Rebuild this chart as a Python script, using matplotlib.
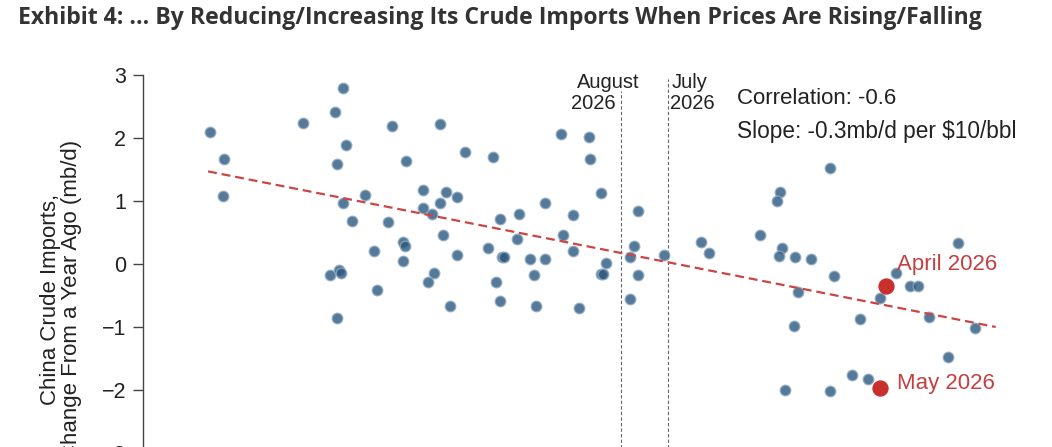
import matplotlib
matplotlib.use("Agg")
import matplotlib.pyplot as plt

# Change in crude price ($/bbl, arbitrary origin) vs change in China crude imports (mb/d)
price_chg = [
    -36.6, -35.1, -35.2, -26.9, -22.7, -23.5, -22.4, -23.3, -22.7, -21.8,
    -24.1, -23.1, -22.9, -23.3, -17.6, -12.6, -16.1, -10.0, -7.0, 0.1,
    3.0, 3.1, -20.4, -14.3, -11.9, -10.8, -12.6, -14.3, -13.4, -18.0,
    -12.2, 4.3, -1.6, -6.3, -4.3, 1.3, 0.3, -4.5, -16.4, -16.2,
    -19.5, -16.4, -10.8, -7.5, -6.1, -5.9, -3.2, -1.6, 1.3, 4.8,
    4.3, 4.5, -13.2, -13.8, -2.7, -6.7, -19.1, -11.5, -6.3, -2.5,
    2.0, 8.1, 7.7, 7.3, 8.1, 7.3, 10.8, 14.7, 15.5, 20.9,
    23.0, 22.7, 28.2, 23.2, 22.9, 24.5, 26.2, 28.6, 24.8, 24.4,
    31.3, 33.4, 35.1, 36.6, 37.4, 38.5, 41.6, 43.3, 40.5, 30.5,
    32.2, 23.5, 28.2,
]
imports_chg = [
    2.10, 1.67, 1.08, 2.24, 2.79, 2.41, 1.89, 1.58, 0.97, 0.68,
    -0.18, -0.10, -0.15, -0.85, 2.19, 2.22, 1.64, 1.78, 1.70, 2.07,
    2.02, 1.67, 1.09, 1.18, 1.15, 1.07, 0.97, 0.89, 0.80, 0.66,
    0.46, 1.12, 0.97, 0.71, 0.80, 0.78, 0.46, 0.40, 0.35, 0.29,
    0.20, 0.05, 0.14, 0.25, 0.11, 0.11, 0.08, 0.08, 0.20, 0.02,
    -0.16, -0.16, -0.15, -0.29, -0.18, -0.29, -0.41, -0.67, -0.58, -0.67,
    -0.70, 0.84, 0.29, 0.11, -0.18, -0.56, 0.14, 0.35, 0.17, 0.46,
    1.15, 1.00, 1.52, 0.26, 0.13, 0.11, 0.08, -0.19, -0.44, -0.98,
    -0.87, -0.54, -0.15, -0.35, -0.35, -0.84, 0.34, -1.01, -1.47, -1.76,
    -1.83, -2.00, -2.02,
]

# highlighted months
hl_labels = ["April 2026", "May 2026"]
hl_price = [34.0, 33.4]
hl_imports = [-0.35, -1.97]

# fitted trend line end points
trend_x = [-36.8, 45.5]
trend_y = [1.47, -1.00]

# price markers (vertical dashed lines)
mark_month = ["August", "July"]
mark_year = ["2026", "2026"]
mark_x = [6.4, 11.3]
mark_top = [2.75, 2.94]

corr_text = "Correlation: -0.6"
slope_text = "Slope: -0.3mb/d per $10/bbl"
yticks = [-3, -2, -1, 0, 1, 2, 3]
ytick_labels = ["\u22123", "\u22122", "\u22121", "0", "1", "2", "3"]

W, H = 1052, 447
plt.rcParams["font.family"] = ["Liberation Sans", "DejaVu Sans"]
fig = plt.figure(figsize=(W / 100, H / 100), dpi=100)

YLO, YHI = -4.0, 3.0
px_per_unit = 63.0
ax_h = (YHI - YLO) * px_per_unit
ax_top = 75
ax = fig.add_axes([143 / W, 1 - (ax_top + ax_h) / H, 867 / W, ax_h / H])
ax.set_xlim(-43.6, 47.0)
ax.set_ylim(YLO, YHI)

for s in ("top", "right", "bottom"):
    ax.spines[s].set_visible(False)
ax.spines["left"].set_color("#444444")
ax.spines["left"].set_linewidth(1.0)
ax.set_xticks([])
ax.set_yticks(yticks)
ax.set_yticklabels(ytick_labels)
ax.tick_params(axis="y", length=7, width=1.0, color="#444444",
               labelsize=15.5, labelcolor="#222222", pad=5)

ax.set_ylabel("China Crude Imports,\nChange From a Year Ago (mb/d)",
              fontsize=16, color="#222222", linespacing=1.0)
ax.yaxis.set_label_coords(-0.07, 0.49)

# vertical reference lines
for lx, top in zip(mark_x, mark_top):
    ax.plot([lx, lx], [YLO, top], ls=(0, (3, 2)), lw=0.8, color="#666666", zorder=1)
tkw = dict(fontsize=14.5, va="center", color="#222222")
ax.text(mark_x[0] - 1.4, 2.88, mark_month[0], ha="center", **tkw)
ax.text(mark_x[0] - 2.9, 2.55, mark_year[0], ha="center", **tkw)
ax.text(mark_x[1] + 0.3, 2.88, mark_month[1], ha="left", **tkw)
ax.text(mark_x[1] + 0.2, 2.55, mark_year[1], ha="left", **tkw)

ax.scatter(price_chg, imports_chg, s=58, facecolor="#2b577e", edgecolor="#8fa9c0",
           linewidth=1.0, alpha=0.8, zorder=3)

ax.plot(trend_x, trend_y, ls=(0, (4, 2.2)), lw=1.6, color="#cc4444", zorder=4)

ax.scatter(hl_price, hl_imports, s=115, color="#c8302c", zorder=5)
ax.text(hl_price[0] + 1.2, hl_imports[0] + 0.34, hl_labels[0], fontsize=16,
        color="#c44040", ha="left", va="center", zorder=6)
ax.text(hl_price[1] + 1.8, hl_imports[1] + 0.07, hl_labels[1], fontsize=16,
        color="#c44040", ha="left", va="center", zorder=6)

ax.text(18.5, 2.63, corr_text, fontsize=16, color="#222222", ha="left", va="center")
ax.text(18.5, 2.11, slope_text, fontsize=16.3, color="#222222", ha="left", va="center")

fig.text(18 / W, 1 - 18 / H,
         "Exhibit 4: ... By Reducing/Increasing Its Crude Imports When Prices Are Rising/Falling",
         fontsize=16.6, fontweight="bold", family="Open Sans", color="#333333",
         ha="left", va="center")

fig.savefig("out.png", dpi=100)
